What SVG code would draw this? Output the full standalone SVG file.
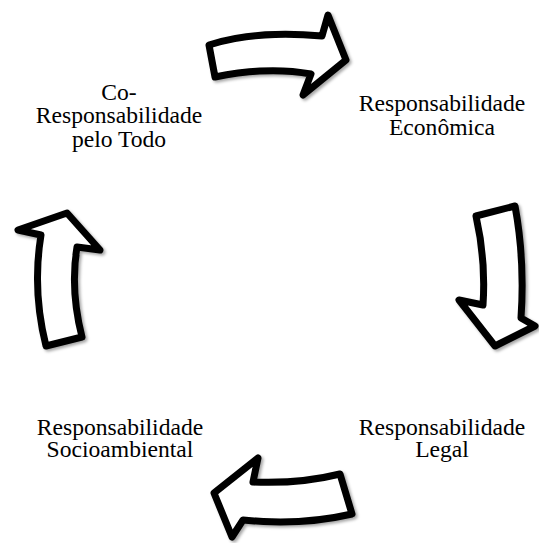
<svg xmlns="http://www.w3.org/2000/svg" width="539" height="543" viewBox="0 0 539 543">
  <style>
    .arrow { fill: #ffffff; stroke: #000000; stroke-width: 7; stroke-linejoin: round; filter: url(#shadow); }
    .label { font-family: "Liberation Serif", "Times New Roman", serif; font-size: 23.6px; fill: #000000; text-anchor: middle; }
  </style>
  <defs>
    <filter id="shadow" x="-20%" y="-20%" width="140%" height="140%">
      <feDropShadow dx="2" dy="2" stdDeviation="1.5" flood-color="#000000" flood-opacity="0.35"/>
    </filter>
  </defs>
  <rect width="539" height="543" fill="#ffffff"/>

  <g id="connectors">
    <!-- top: towards Econômica -->
    <path class="arrow" d="M209,45 Q255,30 322,36 L328,15 L346,60 L303,95 L311,74 Q268,66 215,77 Z"/>
    <!-- right: towards Legal -->
    <path class="arrow" d="M476,216 L515,206 Q525,260 521,318 L535,326 L495,346 L459,300 L483,305 Q486,260 476,216 Z"/>
    <!-- bottom: towards Socioambiental -->
    <path class="arrow" d="M340,474 L352,514 Q300,526 243,520 L232,537 L214,493 L258,458 L253,482 Q300,484 340,474 Z"/>
    <!-- left: towards Co-Responsabilidade -->
    <path class="arrow" d="M46,346 L82,337 Q70,290 77,247 L100,250 L67,213 L18,230 L41,235 Q32,290 46,346 Z"/>
  </g>

  <g id="node-co-responsabilidade">
    <text class="label" x="119" y="100">Co-</text>
    <text class="label" x="119" y="123">Responsabilidade</text>
    <text class="label" x="119" y="147">pelo Todo</text>
  </g>
  <g id="node-economica">
    <text class="label" x="442" y="111">Responsabilidade</text>
    <text class="label" x="442" y="135">Econômica</text>
  </g>
  <g id="node-legal">
    <text class="label" x="442" y="435">Responsabilidade</text>
    <text class="label" x="442" y="457">Legal</text>
  </g>
  <g id="node-socioambiental">
    <text class="label" x="120" y="435">Responsabilidade</text>
    <text class="label" x="120" y="457">Socioambiental</text>
  </g>
</svg>
